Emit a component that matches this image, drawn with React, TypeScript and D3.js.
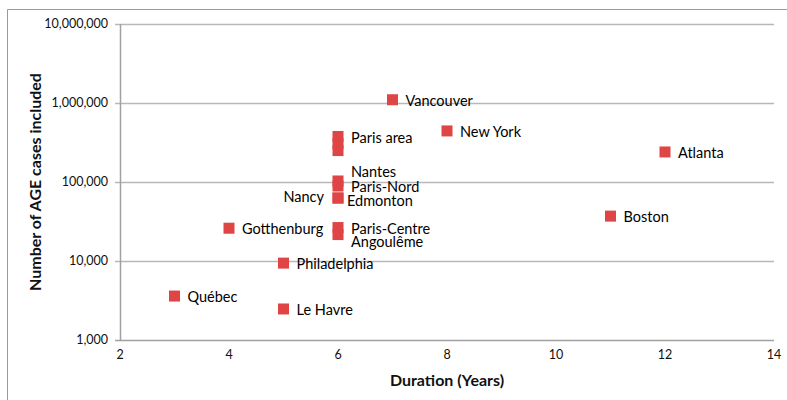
import React from "react";
import * as d3 from "d3";

const cities = ["Vancouver", "New York", "Atlanta", "Boston", "Paris area", "Paris area (2)", "Paris area (3)", "Nantes", "Paris-Nord", "Edmonton", "Nancy", "Paris-Centre", "Angoulême", "Gotthenburg", "Philadelphia", "Québec", "Le Havre"];
const durations = [7, 8, 12, 11, 6, 6, 6, 6, 6, 6, 6, 6, 6, 4, 5, 3, 5];
const cases = [1100000, 443000, 240000, 37000, 377000, 307000, 250000, 103000, 89000, 62700, 62700, 26500, 21600, 26000, 9400, 3600, 2470];
const labels = ["Vancouver", "New York", "Atlanta", "Boston", "Paris area", "", "", "Nantes", "Paris-Nord", "Edmonton", "Nancy", "Paris-Centre", "Angoulême", "Gotthenburg", "Philadelphia", "Québec", "Le Havre"];
const xTicks = [2, 4, 6, 8, 10, 12, 14];
const yTicks = [1000, 10000, 100000, 1000000, 10000000];

// label placement: [dx, dy, anchor]
const labelPlace: Record<string, [number, number, string]> = {
  "Nantes": [13, -9, "start"],
  "Paris-Nord": [13, 1, "start"],
  "Edmonton": [9, 3, "start"],
  "Nancy": [-14, -1, "end"],
  "Paris-Centre": [13, 1.5, "start"],
  "Angoulême": [13, 7.5, "start"],
};

const W = 787, H = 400;
const m = { left: 120, right: 774, top: 24, bottom: 340 };
const font = "Lato, 'Open Sans', sans-serif";

export default function App() {
  const x = d3.scaleLinear().domain([2, 14]).range([m.left, m.right]);
  const y = d3.scaleLog().domain([1000, 10000000]).range([m.bottom, m.top]);
  const fmt = d3.format(",");
  const sq = 11;
  return (
    <svg width={W} height={H} style={{ position: "absolute", left: 0, top: 0, background: "#fff" }}>
      <path d={`M7.5,${H} V9.5 H${W}`} fill="none" stroke="#9a9a9a" strokeWidth={1} />
      {yTicks.map((t) => (
        <g key={t}>
          <line x1={m.left - 5} x2={m.right} y1={Math.round(y(t)) + 0.5} y2={Math.round(y(t)) + 0.5} stroke={t === 1000 ? "#a0a0a0" : "#b8b8b8"} strokeWidth={1.5} />
          <text x={m.left - 12} y={y(t)} dy="0.35em" textAnchor="end" fontFamily={font} fontSize={12.5} fill="#111">{fmt(t)}</text>
        </g>
      ))}
      <line x1={m.left + 0.5} x2={m.left + 0.5} y1={m.top} y2={m.bottom} stroke="#a0a0a0" strokeWidth={1.5} />
      {xTicks.map((t) => (
        <text key={t} x={x(t)} y={m.bottom + 19} textAnchor="middle" fontFamily={font} fontSize={12.5} fill="#111">{t}</text>
      ))}
      <text x={(m.left + m.right) / 2} y={386} textAnchor="middle" fontFamily={font} fontSize={16} fontWeight="bold" fill="#111">Duration (Years)</text>
      <text transform={`translate(41,${(m.top + m.bottom) / 2}) rotate(-90)`} textAnchor="middle" fontFamily={font} fontSize={16} fontWeight="bold" fill="#111">Number of AGE cases included</text>
      {cities.map((c, i) => (
        <rect key={c} x={x(durations[i]) - sq / 2} y={y(cases[i]) - sq / 2} width={sq} height={sq} fill="#E04545" />
      ))}
      {cities.map((c, i) => {
        if (!labels[i]) return null;
        const p = labelPlace[labels[i]] || [13, 1, "start"];
        return (
          <text key={"l" + c} x={x(durations[i]) + p[0]} y={y(cases[i]) + p[1]} dy="0.35em" textAnchor={p[2]} fontFamily={font} fontSize={14.5} fill="#000">{labels[i]}</text>
        );
      })}
    </svg>
  );
}
